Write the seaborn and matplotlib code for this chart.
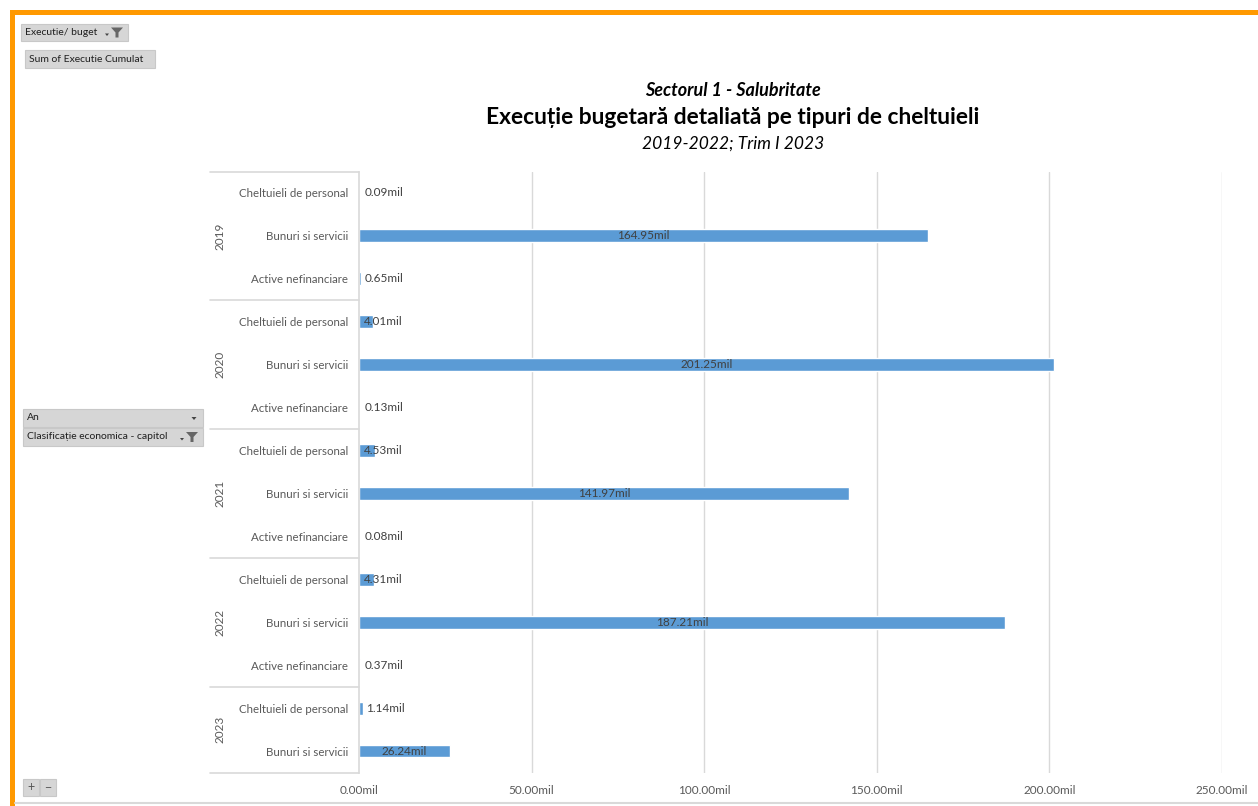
import pandas as pd
import matplotlib
matplotlib.use("Agg")
import matplotlib.pyplot as plt
import seaborn as sns
from matplotlib.patches import Rectangle, Polygon
from matplotlib.lines import Line2D
from matplotlib.transforms import blended_transform_factory

# ── data ──────────────────────────────────────────────────────
years = ["2019", "2020", "2021", "2022", "2023"]
categories = [
    ["Cheltuieli de personal", "Bunuri si servicii", "Active nefinanciare"],
    ["Cheltuieli de personal", "Bunuri si servicii", "Active nefinanciare"],
    ["Cheltuieli de personal", "Bunuri si servicii", "Active nefinanciare"],
    ["Cheltuieli de personal", "Bunuri si servicii", "Active nefinanciare"],
    ["Cheltuieli de personal", "Bunuri si servicii"],
]
values = [
    [0.09, 164.95, 0.65],
    [4.01, 201.25, 0.13],
    [4.53, 141.97, 0.08],
    [4.31, 187.21, 0.37],
    [1.14, 26.24],
]
x_ticks = [0, 50, 100, 150, 200, 250]

rows = []
for yr, cats, vals in zip(years, categories, values):
    for c, v in zip(cats, vals):
        rows.append({"an": yr, "cat": c, "row": f"{yr} | {c}", "val": v})
df = pd.DataFrame(rows)

# ── style ─────────────────────────────────────────────────────
sns.set_theme(style="white")
plt.rcParams["font.family"] = ["Lato", "DejaVu Sans"]

BAR = "#5B9BD5"
GRID = "#D9D9D9"
TXT = "#595959"
LBL = "#404040"
ORANGE = "#FF9900"

W, H = 1258, 806
fig = plt.figure(figsize=(W / 100, H / 100), dpi=100)


def fx(x):
    return x / W


def fy(y):
    return 1 - y / H


ax = fig.add_axes([fx(359), fy(772.5), fx(1222) - fx(359), (772.5 - 171.5) / H])

sns.barplot(data=df, y="row", x="val", orient="h", color=BAR, width=0.3,
            saturation=1, ax=ax, order=df["row"].tolist())

ax.set_xlim(0, 250)
ax.set_ylim(len(df) - 0.5, -0.5)
ax.set_xticks(x_ticks)
ax.set_xticklabels([f"{t:.2f}mil" for t in x_ticks], color=TXT, fontsize=8.5)
ax.set_yticks(range(len(df)))
ax.set_yticklabels(df["cat"], color=TXT, fontsize=8.3)
ax.tick_params(axis="x", length=0, pad=9)
ax.tick_params(axis="y", length=0, pad=8)
ax.set_xlabel("")
ax.set_ylabel("")
for s in ["top", "right", "bottom"]:
    ax.spines[s].set_visible(False)
ax.spines["left"].set_color(GRID)
ax.spines["left"].set_linewidth(1.2)
for t in x_ticks[1:]:
    ax.axvline(t, color=GRID, lw=1, zorder=0)

# data labels
for i, v in enumerate(df["val"]):
    if v > 20:
        ax.text(v / 2, i, f"{v:.2f}mil", ha="center", va="center",
                fontsize=8.5, color=LBL)
    else:
        xl = 1.5 if v > 2 else max(1.5, v + 0.8)
        ax.text(xl, i, f"{v:.2f}mil", ha="left", va="center",
                fontsize=8.5, color=LBL)

# year group table
tr = blended_transform_factory(ax.transAxes, ax.transData)
x_tab = (210 - 359) / 863
start = 0
bounds = [-0.5]
for yr, vals in zip(years, values):
    n = len(vals)
    mid = start + (n - 1) / 2
    ax.text((220 - 359) / 863, mid, yr, rotation=90, ha="center", va="center",
            fontsize=8.5, color=TXT, transform=tr, clip_on=False)
    start += n
    bounds.append(start - 0.5)
for b in bounds:
    ax.plot([x_tab, 0], [b, b], color=GRID, lw=1.2, transform=tr, clip_on=False)

# titles
fig.text(fx(733), fy(91), "Sectorul 1 - Salubritate", ha="center", va="center",
         fontsize=13, fontweight="bold", style="italic", color="black")
fig.text(fx(733), fy(117), "Execuție bugetară detaliată pe tipuri de cheltuieli",
         ha="center", va="center", fontsize=16.4, fontweight="bold", color="black")
fig.text(fx(733), fy(144), "2019-2022; Trim I 2023", ha="center", va="center",
         fontsize=12.5, style="italic", color="black")

# frame
fig.add_artist(Rectangle((fx(10), fy(15)), 1, 5 / H, color=ORANGE, lw=0))
fig.add_artist(Rectangle((fx(10), 0), 5 / W, fy(10), color=ORANGE, lw=0))
fig.add_artist(Line2D([fx(15), 1], [fy(803), fy(803)], color="#D9D9D9", lw=1.5))


# pivot buttons
def button(x0, y0, x1, y1, label, funnel=False, arrow=False):
    fig.add_artist(Rectangle((fx(x0), fy(y1)), fx(x1) - fx(x0), (y1 - y0) / H,
                             facecolor="#D6D6D6", edgecolor="#C8C8C8", lw=0.8))
    fig.text(fx(x0 + 4), fy((y0 + y1) / 2), label, ha="left", va="center",
             fontsize=7.5, color="#1F1F1F")
    if funnel:
        cx, cy = x1 - 11, (y0 + y1) / 2
        fig.add_artist(Polygon([(fx(cx - 6), fy(cy - 5)), (fx(cx + 6), fy(cy - 5)),
                                (fx(cx + 1.5), fy(cy)), (fx(cx + 1.5), fy(cy + 5)),
                                (fx(cx - 1.5), fy(cy + 5)), (fx(cx - 1.5), fy(cy))],
                               closed=True, color="#666666", lw=0))
        fig.add_artist(Polygon([(fx(cx - 12), fy(cy + 1)), (fx(cx - 8), fy(cy + 1)),
                                (fx(cx - 10), fy(cy + 3.5))], closed=True,
                               color="#444444", lw=0))
    if arrow:
        cx, cy = x1 - 9, (y0 + y1) / 2
        fig.add_artist(Polygon([(fx(cx - 2.5), fy(cy - 1)), (fx(cx + 2.5), fy(cy - 1)),
                                (fx(cx), fy(cy + 2))], closed=True,
                               color="#444444", lw=0))


button(21, 24, 128, 41, "Executie/ buget", funnel=True)
button(25, 50, 155, 68, "Sum of Executie Cumulat")
button(23, 409, 203, 427, "An", arrow=True)
button(23, 428, 203, 446, "Clasificație economica - capitol", funnel=True)
fig.add_artist(Rectangle((fx(23), fy(796)), 16 / W, 17 / H, facecolor="#D6D6D6",
                         edgecolor="#C8C8C8", lw=0.8))
fig.add_artist(Rectangle((fx(40), fy(796)), 16 / W, 17 / H, facecolor="#D6D6D6",
                         edgecolor="#C8C8C8", lw=0.8))
fig.text(fx(31), fy(787.5), "+", ha="center", va="center", fontsize=9, color="#555555")
fig.text(fx(48), fy(787.5), "−", ha="center", va="center", fontsize=9, color="#555555")

fig.savefig("out.png", dpi=100, facecolor="white")
